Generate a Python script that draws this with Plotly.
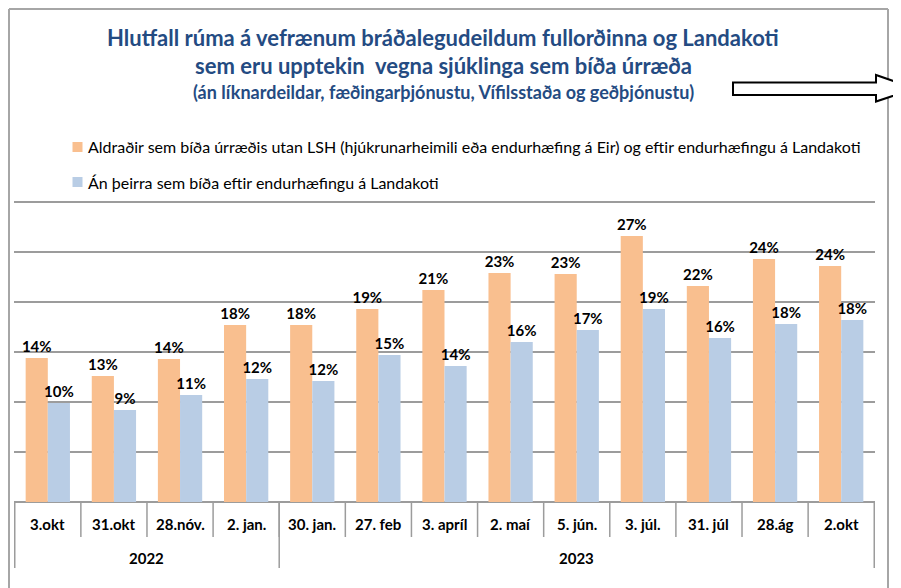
import plotly.graph_objects as go

# Data
dates = ["3.okt", "31.okt", "28.nóv.", "2. jan.", "30. jan.", "27. feb", "3. apríl",
         "2. maí", "5. jún.", "3. júl.", "31. júl", "28.ág", "2.okt"]
years = ["2022", "2023"]
year_counts = [4, 9]
aldradir = [14.4, 12.6, 14.3, 17.7, 17.7, 19.3, 21.2, 22.9, 22.8, 26.6, 21.6, 24.3, 23.6]
an_landakots = [9.9, 9.2, 10.7, 12.3, 12.1, 14.7, 13.6, 16.0, 17.2, 19.3, 16.4, 17.8, 18.2]

series_names = [
    "Aldraðir sem bíða úrræðis utan LSH (hjúkrunarheimili eða endurhæfing á Eir) og eftir endurhæfingu á Landakoti",
    "Án þeirra sem bíða eftir endurhæfingu á Landakoti",
]

ORANGE = "#F9BF8F"
BLUE = "#B9CDE5"
TITLE_BLUE = "#244B82"
GRID = "#9C9C9C"
FONT = "Lato"

# page body has an 8px margin, so the figure is a bit smaller and offset
OFF = 8
W, H = 901 - OFF, 588 - OFF
L, R, T, B = 14, 875, 192, 502  # plot area in page pixels
YMAX = 31


def px_x(x):
    return (x - L) / (R - L)


def px_y(y):
    return (B - y) / (B - T)


fig = go.Figure()
for vals, name, col in [(aldradir, series_names[0], ORANGE), (an_landakots, series_names[1], BLUE)]:
    fig.add_trace(
        go.Bar(
            x=dates,
            y=vals,
            name=name,
            marker=dict(color=col, line=dict(width=0)),
            texttemplate="%{y:.0f}%",
            textposition="outside",
            constraintext="none",
            textfont=dict(family=FONT, size=15, color="black", weight="bold"),
            cliponaxis=False,
        )
    )

shapes = []
annotations = []

# outer frame
for x0, y0, x1, y1 in [(9, 9, 888, 9), (9, 9, 9, 600), (888, 9, 888, 600)]:
    shapes.append(dict(type="line", xref="paper", yref="paper",
                       x0=px_x(x0), y0=px_y(y0), x1=px_x(x1), y1=px_y(y1),
                       line=dict(color="#A6A6A6", width=2)))

# arrow outline
pts = [(733, 82.5), (876, 82.5), (876, 75), (915, 88.5), (876, 101.5), (876, 95), (733, 95)]
path = "M " + " L ".join(f"{px_x(x):.5f},{px_y(y):.5f}" for x, y in pts) + " Z"
shapes.append(dict(type="path", xref="paper", yref="paper", path=path,
                   fillcolor="white", line=dict(color="black", width=2)))

# top gridline (30%)
shapes.append(dict(type="line", xref="paper", yref="y", x0=0, x1=1, y0=30, y1=30,
                   line=dict(color=GRID, width=1.5), layer="below"))

# legend drawn by hand (tight square + text like the original)
for (name, col), ly in zip([(series_names[0], ORANGE), (series_names[1], BLUE)], [147, 182]):
    shapes.append(dict(type="rect", xref="paper", yref="paper",
                       x0=px_x(72.5), x1=px_x(82.5), y0=px_y(ly - 5), y1=px_y(ly + 5),
                       fillcolor=col, line=dict(width=0)))
    annotations.append(dict(x=px_x(86), xref="paper", y=px_y(ly), yref="paper",
                            xanchor="left", yanchor="middle", text=name, showarrow=False,
                            font=dict(family=FONT, size=16, color="black")))

# category table under the axis
for i in range(1, len(dates)):
    shapes.append(dict(type="line", xref="x", yref="paper",
                       x0=i - 0.5, x1=i - 0.5, y0=px_y(503), y1=px_y(537),
                       line=dict(color=GRID, width=1.5)))
edges = [-0.5]
for c in year_counts:
    edges.append(edges[-1] + c)
for e in edges:
    shapes.append(dict(type="line", xref="x", yref="paper",
                       x0=e, x1=e, y0=px_y(503), y1=px_y(568),
                       line=dict(color=GRID, width=1.5)))

for d in dates:
    annotations.append(dict(x=d, xref="x", y=px_y(524), yref="paper", yanchor="middle",
                            text=d, showarrow=False,
                            font=dict(family=FONT, size=15, color="black", weight="bold")))
for yr, a, b in zip(years, edges[:-1], edges[1:]):
    annotations.append(dict(x=(a + b) / 2, xref="x", y=px_y(558), yref="paper", yanchor="middle",
                            text=yr, showarrow=False,
                            font=dict(family=FONT, size=15, color="black", weight="bold")))

# title
titles = [
    ("Hlutfall rúma á vefrænum bráðalegudeildum fullorðinna og Landakoti", 38, 22),
    ("sem eru upptekin  vegna sjúklinga sem bíða úrræða", 66, 22),
    ("(án líknardeildar, fæðingarþjónustu, Vífilsstaða og geðþjónustu)", 92, 18),
]
for txt, y, s in titles:
    annotations.append(dict(x=px_x(443), xref="paper", y=px_y(y), yref="paper",
                            xanchor="center", yanchor="middle", text=txt, showarrow=False,
                            font=dict(family=FONT, size=s, color=TITLE_BLUE, weight="bold")))

fig.update_layout(
    width=W,
    height=H,
    margin=dict(l=L - OFF, r=W + OFF - R, t=T - OFF, b=H + OFF - B, pad=0),
    paper_bgcolor="white",
    plot_bgcolor="white",
    barmode="group",
    bargap=0.33,
    bargroupgap=0,
    showlegend=False,
    xaxis=dict(showticklabels=False, ticks="", showgrid=False, showline=False),
    yaxis=dict(range=[0, YMAX], dtick=5, showticklabels=False, showgrid=True,
               gridcolor=GRID, gridwidth=1.5, zeroline=True, zerolinecolor=GRID,
               zerolinewidth=1.5, ticks=""),
    shapes=shapes,
    annotations=annotations,
    font=dict(family=FONT),
)

fig.write_html("out.html")
